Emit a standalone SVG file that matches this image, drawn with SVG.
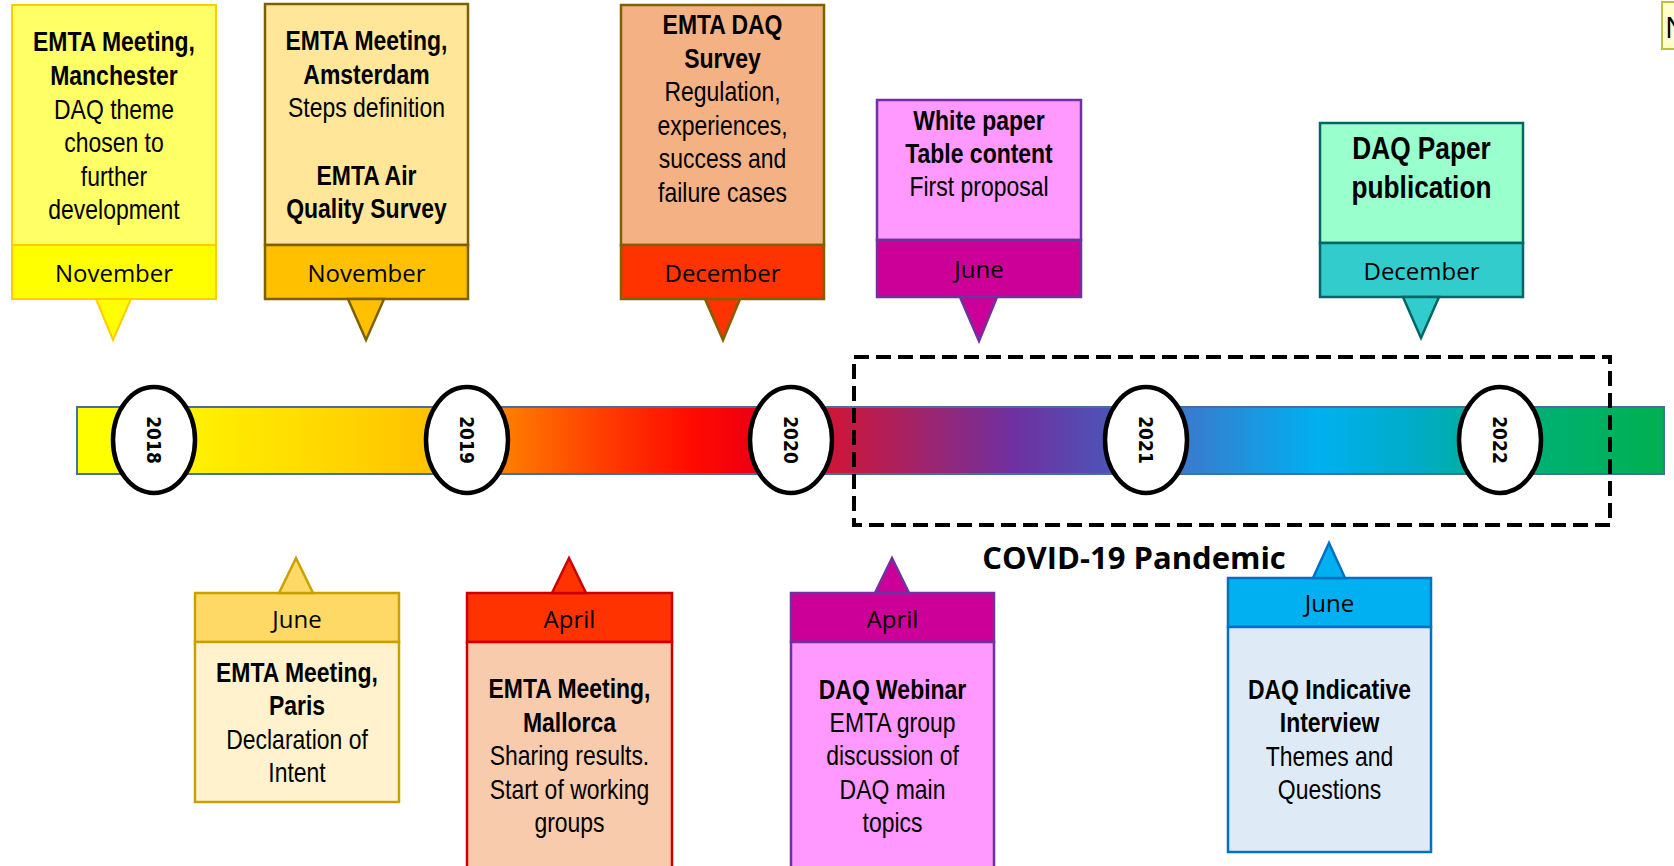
<svg xmlns="http://www.w3.org/2000/svg" width="1674" height="866" viewBox="0 0 1674 866">
<style>
.b{font-family:"Liberation Sans",Arial,sans-serif;font-weight:bold;font-size:28px;text-anchor:middle;fill:#000}
.r{font-family:"Liberation Sans",Arial,sans-serif;font-size:28px;text-anchor:middle;fill:#000}
.big{font-size:32px}
.m{font-family:"Open Sans","Noto Sans",sans-serif;font-size:24px;text-anchor:middle;fill:#000}
.yr{font-family:"DejaVu Sans Condensed","DejaVu Sans",sans-serif;font-weight:bold;font-size:19px;text-anchor:middle;fill:#000}
.ell{fill:#fff;stroke:#000;stroke-width:4.5}
.cov{font-family:"Open Sans","Noto Sans",sans-serif;font-weight:bold;font-size:31px;text-anchor:middle;fill:#000}
</style>
<defs>
<linearGradient id="tl" x1="77" y1="0" x2="1664" y2="0" gradientUnits="userSpaceOnUse">
<stop offset="0" stop-color="#FFFF00"/>
<stop offset="0.025" stop-color="#FFFF00"/>
<stop offset="0.14" stop-color="#FFDD00"/>
<stop offset="0.229" stop-color="#FFC000"/>
<stop offset="0.268" stop-color="#FF7F00"/>
<stop offset="0.328" stop-color="#FF4000"/>
<stop offset="0.389" stop-color="#FF0A00"/>
<stop offset="0.422" stop-color="#F00010"/>
<stop offset="0.483" stop-color="#C8183F"/>
<stop offset="0.59" stop-color="#7030A0"/>
<stop offset="0.645" stop-color="#5050B4"/>
<stop offset="0.698" stop-color="#3A7ACC"/>
<stop offset="0.782" stop-color="#00B0F0"/>
<stop offset="0.846" stop-color="#00ACC4"/>
<stop offset="0.927" stop-color="#00B070"/>
<stop offset="1" stop-color="#00B050"/>
</linearGradient>
</defs>
<rect width="1674" height="866" fill="#fff"/>

<g id="timeline">
<rect x="77" y="407" width="1587" height="67" fill="url(#tl)" stroke="#41719C" stroke-width="2"/>
</g>

<g id="covid">
<rect x="854" y="357" width="756" height="168" fill="none" stroke="#000" stroke-width="4" stroke-dasharray="15 7"/>
<text class="cov" x="1134" y="569">COVID-19 Pandemic</text>
</g>

<g id="years">
<g id="y2018"><ellipse class="ell" cx="154" cy="440" rx="41" ry="53"/><text class="yr" transform="translate(154 440) rotate(90)" dy="0.36em">2018</text></g>
<g id="y2019"><ellipse class="ell" cx="467" cy="440" rx="41" ry="53"/><text class="yr" transform="translate(467 440) rotate(90)" dy="0.36em">2019</text></g>
<g id="y2020"><ellipse class="ell" cx="791" cy="440" rx="41" ry="53"/><text class="yr" transform="translate(791 440) rotate(90)" dy="0.36em">2020</text></g>
<g id="y2021"><ellipse class="ell" cx="1146" cy="440" rx="41" ry="53"/><text class="yr" transform="translate(1146 440) rotate(90)" dy="0.36em">2021</text></g>
<g id="y2022"><ellipse class="ell" cx="1500" cy="440" rx="41" ry="53"/><text class="yr" transform="translate(1500 440) rotate(90)" dy="0.36em">2022</text></g>
</g>

<g id="connectors"></g>

<g id="n-manchester">
<rect x="12" y="5" width="204" height="240" fill="#FFFF66" stroke="#FFCC00" stroke-width="2"/>
<rect x="12" y="245" width="204" height="54" fill="#FFFF00" stroke="#FFCC00" stroke-width="2"/>
<polygon points="96,299 131,299 113,340" fill="#FFFF00" stroke="#FFCC00" stroke-width="2"/>
<g transform="translate(114 0) scale(0.82 1)">
<text class="b" x="0" y="51">EMTA Meeting,</text>
<text class="b" x="0" y="85">Manchester</text>
<text class="r" x="0" y="119">DAQ theme</text>
<text class="r" x="0" y="152">chosen to</text>
<text class="r" x="0" y="186">further</text>
<text class="r" x="0" y="219">development</text>
</g>
<text class="m" x="114" y="282">November</text>
</g>

<g id="n-amsterdam">
<rect x="265" y="4" width="203" height="241" fill="#FFE699" stroke="#7F6000" stroke-width="2.5"/>
<rect x="265" y="245" width="203" height="54" fill="#FFC000" stroke="#7F6000" stroke-width="2.5"/>
<polygon points="348,299 384,299 366,340" fill="#FFC000" stroke="#7F6000" stroke-width="2.5"/>
<g transform="translate(366.5 0) scale(0.82 1)">
<text class="b" x="0" y="50">EMTA Meeting,</text>
<text class="b" x="0" y="84">Amsterdam</text>
<text class="r" x="0" y="117">Steps definition</text>
<text class="b" x="0" y="185">EMTA Air</text>
<text class="b" x="0" y="218">Quality Survey</text>
</g>
<text class="m" x="366.5" y="282">November</text>
</g>

<g id="n-daq-survey">
<rect x="621" y="5" width="203" height="240" fill="#F4B183" stroke="#806000" stroke-width="2.5"/>
<rect x="621" y="245" width="203" height="54" fill="#FF3300" stroke="#806000" stroke-width="2.5"/>
<polygon points="705,299 740,299 723,340" fill="#FF3300" stroke="#806000" stroke-width="2.5"/>
<g transform="translate(722.5 0) scale(0.82 1)">
<text class="b" x="0" y="34">EMTA DAQ</text>
<text class="b" x="0" y="68">Survey</text>
<text class="r" x="0" y="101">Regulation,</text>
<text class="r" x="0" y="135">experiences,</text>
<text class="r" x="0" y="168">success and</text>
<text class="r" x="0" y="202">failure cases</text>
</g>
<text class="m" x="722.5" y="282">December</text>
</g>

<g id="n-white-paper">
<rect x="877" y="100" width="204" height="140" fill="#FF99FF" stroke="#7030A0" stroke-width="2.5"/>
<rect x="877" y="240" width="204" height="57" fill="#CC0099" stroke="#7030A0" stroke-width="2.5"/>
<polygon points="960,297 997,297 979,341" fill="#CC0099" stroke="#7030A0" stroke-width="2.5"/>
<g transform="translate(979 0) scale(0.82 1)">
<text class="b" x="0" y="130">White paper</text>
<text class="b" x="0" y="163">Table content</text>
<text class="r" x="0" y="196">First proposal</text>
</g>
<text class="m" x="979" y="278">June</text>
</g>

<g id="n-daq-paper">
<rect x="1320" y="123" width="203" height="120" fill="#99FFCC" stroke="#006666" stroke-width="2.5"/>
<rect x="1320" y="243" width="203" height="54" fill="#33CCCC" stroke="#006666" stroke-width="2.5"/>
<polygon points="1403,297 1439,297 1421,338" fill="#33CCCC" stroke="#006666" stroke-width="2.5"/>
<g transform="translate(1421.5 0) scale(0.82 1)">
<text class="b big" x="0" y="159">DAQ Paper</text>
<text class="b big" x="0" y="198">publication</text>
</g>
<text class="m" x="1421.5" y="280">December</text>
</g>

<g id="n-note">
<rect x="1662" y="2" width="30" height="47" fill="#FFFFCC" stroke="#BFBF3F" stroke-width="2"/>
<text x="1665" y="38" font-family="Open Sans, sans-serif" font-size="29" fill="#000">N</text>
</g>

<g id="n-paris">
<rect x="195" y="593" width="204" height="49" fill="#FFD966" stroke="#C9A000" stroke-width="2.5"/>
<rect x="195" y="642" width="204" height="160" fill="#FFF2CC" stroke="#C9A000" stroke-width="2.5"/>
<polygon points="279,593 313,593 296,558" fill="#FFD966" stroke="#C9A000" stroke-width="2.5"/>
<text class="m" x="297" y="628">June</text>
<g transform="translate(297 0) scale(0.82 1)">
<text class="b" x="0" y="682">EMTA Meeting,</text>
<text class="b" x="0" y="715">Paris</text>
<text class="r" x="0" y="749">Declaration of</text>
<text class="r" x="0" y="782">Intent</text>
</g>
</g>

<g id="n-mallorca">
<rect x="467" y="593" width="205" height="49" fill="#FF3300" stroke="#CC0000" stroke-width="2.5"/>
<rect x="467" y="642" width="205" height="240" fill="#F8CBAD" stroke="#CC0000" stroke-width="2.5"/>
<polygon points="552,593 586,593 569,558" fill="#FF3300" stroke="#CC0000" stroke-width="2.5"/>
<text class="m" x="569.5" y="628">April</text>
<g transform="translate(569.5 0) scale(0.82 1)">
<text class="b" x="0" y="698">EMTA Meeting,</text>
<text class="b" x="0" y="732">Mallorca</text>
<text class="r" x="0" y="765">Sharing results.</text>
<text class="r" x="0" y="799">Start of working</text>
<text class="r" x="0" y="832">groups</text>
</g>
</g>

<g id="n-webinar">
<rect x="791" y="593" width="203" height="49" fill="#CC0099" stroke="#7030A0" stroke-width="2.5"/>
<rect x="791" y="642" width="203" height="240" fill="#FF99FF" stroke="#7030A0" stroke-width="2.5"/>
<polygon points="875,593 909,593 892,558" fill="#CC0099" stroke="#7030A0" stroke-width="2.5"/>
<text class="m" x="892.5" y="628">April</text>
<g transform="translate(892.5 0) scale(0.82 1)">
<text class="b" x="0" y="699">DAQ Webinar</text>
<text class="r" x="0" y="732">EMTA group</text>
<text class="r" x="0" y="765">discussion of</text>
<text class="r" x="0" y="799">DAQ main</text>
<text class="r" x="0" y="832">topics</text>
</g>
</g>

<g id="n-interview">
<rect x="1228" y="578" width="203" height="49" fill="#00B0F0" stroke="#0070C0" stroke-width="2.5"/>
<rect x="1228" y="627" width="203" height="225" fill="#DEEBF7" stroke="#0070C0" stroke-width="2.5"/>
<polygon points="1313,578 1345,578 1329,543" fill="#00B0F0" stroke="#0070C0" stroke-width="2.5"/>
<text class="m" x="1329.5" y="612">June</text>
<g transform="translate(1329.5 0) scale(0.82 1)">
<text class="b" x="0" y="699">DAQ Indicative</text>
<text class="b" x="0" y="732">Interview</text>
<text class="r" x="0" y="766">Themes and</text>
<text class="r" x="0" y="799">Questions</text>
</g>
</g>
</svg>
